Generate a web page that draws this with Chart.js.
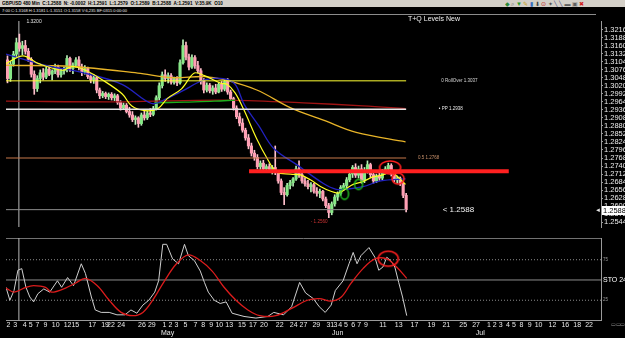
<!DOCTYPE html>
<html><head><meta charset="utf-8">
<script src="https://cdn.jsdelivr.net/npm/chart.js@4.4.1/dist/chart.umd.min.js"></script>
<style>
html,body{margin:0;padding:0;background:#000;}
#wrap{position:relative;width:625px;height:338px;overflow:hidden;background:#000;font-family:"Liberation Sans",Arial,sans-serif;}
.hd1{position:absolute;left:0;top:0;width:625px;height:7px;background:#d4d0c8;}
.hd1 .t{position:absolute;left:2px;top:0;font-size:9.2px;font-weight:bold;line-height:14px;color:#000;white-space:nowrap;transform:scale(0.5);transform-origin:0 0;}
.hd1 .ic{position:absolute;left:505px;top:0;font-size:12px;line-height:14px;white-space:nowrap;transform:scale(0.5);transform-origin:0 0;letter-spacing:3px;}
.hd2{position:absolute;left:0;top:7px;width:596px;height:7px;border-bottom:1px solid #8c8c8c;}
.hd2 .t{position:absolute;left:2px;top:0;font-size:8.2px;line-height:14px;color:#e6e6e6;white-space:nowrap;transform:scale(0.5);transform-origin:0 0;}
#ttl{position:absolute;left:408px;top:15px;font-size:7px;line-height:8px;color:#f0f0f0;white-space:nowrap;}
canvas{position:absolute;left:0;display:block;}
#cMain{top:15px;}
#cSto{top:232px;}
#corner{position:absolute;left:611px;top:321px;font-size:10px;line-height:12px;color:#9a9a9a;transform:scale(0.5);transform-origin:0 0;white-space:nowrap;}
</style></head>
<body>
<div id="wrap">
  <div class="hd1"><span class="t">GBPUSD 480 Min &nbsp;C:1.2588 &nbsp;N: -0.0002 &nbsp;H:1.2591 &nbsp;L:1.2579 &nbsp;O:1.2589 &nbsp;B:1.2588 &nbsp;A:1.2591 &nbsp;V:35.9K &nbsp;O10</span>
    <span class="ic"><span style="color:#2a8a3a">◆</span><span style="color:#606060">⌕</span><span style="color:#2a9a2a">▼</span><span style="color:#c8a020">✎</span><span style="color:#3a70c0">▮</span><span style="color:#404040">⬇</span><span style="color:#c02020">⊙</span><span style="color:#505050">✦</span><span style="color:#404080">╲</span><span style="color:#404080">╲</span><span style="color:#606060">▬</span><span style="color:#606060">▣</span><span style="color:#d02020">✖</span></span></div>
  <div class="hd2"><span class="t">7:00 C:1.3168 H:1.3181 L:1.3151 O:1.3158 V:6,235 BF:0315 0:00:00</span></div>
  <canvas id="cMain" width="625" height="218"></canvas>
  <canvas id="cSto" width="625" height="106"></canvas>
  <div id="ttl">T+Q Levels New</div>
  <div id="corner">▭▭▭</div>
</div>
<script>
// ---------- DATA ----------
const candleOpen = [
1.3110,1.3045,1.3095,1.3130,1.3170,1.3150,1.3160,1.3140,1.3112,1.3060,
1.3010,1.3045,1.3065,1.3050,1.3078,1.3060,1.3070,1.3085,1.3058,1.3072,
1.3075,1.3115,1.3080,1.3092,1.3110,1.3085,1.3068,1.3080,1.3052,1.3040,
1.3048,1.3005,1.2985,1.2993,1.2982,1.2990,1.2978,1.2985,1.2962,1.2942,
1.2952,1.2930,1.2918,1.2902,1.2908,1.2888,1.2918,1.2908,1.2925,1.2920,
1.2940,1.2978,1.3020,1.3058,1.3045,1.3055,1.3032,1.3045,1.3030,1.3100,
1.3160,1.3120,1.3085,1.3118,1.3090,1.3072,1.3035,1.3005,1.3022,1.3002,
1.3012,1.2998,1.3025,1.3008,1.3035,1.2998,1.2975,1.2942,1.2912,1.2890,
1.2865,1.2838,1.2810,1.2785,1.2770,1.2738,1.2750,1.2730,1.2738,1.2728,
1.2735,1.2718,1.2688,1.2648,1.2640,1.2672,1.2682,1.2695,1.2730,1.2710,
1.2688,1.2678,1.2668,1.2675,1.2652,1.2645,1.2652,1.2625,1.2602,1.2578,
1.2608,1.2632,1.2645,1.2665,1.2672,1.2692,1.2712,1.2735,1.2708,1.2730,
1.2690,1.2725,1.2745,1.2710,1.2688,1.2705,1.2698,1.2722,1.2730,1.2742,
1.2712,1.2692,1.2698,1.2680,1.2638];
const candleHigh = [
1.3124,1.3105,1.3140,1.3186,1.3200,1.3175,1.3178,1.3150,1.3118,1.3072,
1.3055,1.3075,1.3080,1.3085,1.3090,1.3075,1.3095,1.3092,1.3080,1.3085,
1.3125,1.3120,1.3100,1.3118,1.3122,1.3095,1.3090,1.3085,1.3062,1.3058,
1.3052,1.3012,1.3000,1.2998,1.2995,1.2996,1.2992,1.2990,1.2968,1.2960,
1.2958,1.2945,1.2930,1.2915,1.2912,1.2925,1.2935,1.2932,1.2940,1.2948,
1.2985,1.3030,1.3068,1.3075,1.3065,1.3062,1.3050,1.3052,1.3110,1.3180,
1.3172,1.3130,1.3128,1.3125,1.3105,1.3080,1.3045,1.3030,1.3028,1.3020,
1.3025,1.3030,1.3035,1.3040,1.3045,1.3005,1.2980,1.2950,1.2925,1.2905,
1.2872,1.2850,1.2820,1.2795,1.2780,1.2758,1.2760,1.2745,1.2748,1.2742,
1.2810,1.2725,1.2695,1.2665,1.2680,1.2690,1.2700,1.2740,1.2758,1.2715,
1.2700,1.2690,1.2682,1.2680,1.2665,1.2660,1.2655,1.2632,1.2610,1.2615,
1.2640,1.2650,1.2672,1.2680,1.2700,1.2720,1.2742,1.2748,1.2740,1.2745,
1.2735,1.2758,1.2750,1.2718,1.2712,1.2715,1.2728,1.2738,1.2750,1.2748,
1.2718,1.2705,1.2702,1.2685,1.2645];
const candleLow = [
1.3030,1.3035,1.3088,1.3120,1.3140,1.3128,1.3130,1.3105,1.3050,1.2990,
1.3000,1.3030,1.3040,1.3045,1.3055,1.3040,1.3062,1.3050,1.3050,1.3060,
1.3068,1.3070,1.3062,1.3085,1.3075,1.3055,1.3060,1.3045,1.3030,1.3028,
1.2995,1.2975,1.2978,1.2975,1.2972,1.2970,1.2968,1.2955,1.2935,1.2938,
1.2925,1.2910,1.2895,1.2885,1.2875,1.2882,1.2900,1.2902,1.2912,1.2915,
1.2935,1.2970,1.3012,1.3035,1.3030,1.3025,1.3025,1.3020,1.3025,1.3095,
1.3110,1.3075,1.3080,1.3080,1.3065,1.3025,1.2995,1.2998,1.2995,1.2990,
1.2992,1.2995,1.3000,1.3002,1.2990,1.2968,1.2935,1.2905,1.2880,1.2858,
1.2830,1.2800,1.2775,1.2760,1.2730,1.2728,1.2722,1.2718,1.2720,1.2712,
1.2710,1.2680,1.2640,1.2605,1.2635,1.2660,1.2670,1.2690,1.2700,1.2680,
1.2670,1.2660,1.2650,1.2645,1.2635,1.2630,1.2618,1.2595,1.2560,1.2570,
1.2600,1.2620,1.2638,1.2655,1.2662,1.2685,1.2700,1.2700,1.2698,1.2680,
1.2682,1.2715,1.2700,1.2680,1.2682,1.2690,1.2692,1.2712,1.2718,1.2705,
1.2685,1.2680,1.2672,1.2630,1.2580];
const candleClose = [
1.3045,1.3095,1.3130,1.3170,1.3150,1.3160,1.3140,1.3112,1.3060,1.3010,
1.3045,1.3065,1.3050,1.3078,1.3060,1.3070,1.3085,1.3058,1.3072,1.3075,
1.3115,1.3080,1.3092,1.3110,1.3085,1.3068,1.3080,1.3052,1.3040,1.3048,
1.3005,1.2985,1.2993,1.2982,1.2990,1.2978,1.2985,1.2962,1.2942,1.2952,
1.2930,1.2918,1.2902,1.2908,1.2888,1.2918,1.2908,1.2925,1.2920,1.2940,
1.2978,1.3020,1.3058,1.3045,1.3055,1.3032,1.3045,1.3030,1.3100,1.3160,
1.3120,1.3085,1.3118,1.3090,1.3072,1.3035,1.3005,1.3022,1.3002,1.3012,
1.2998,1.3025,1.3008,1.3035,1.2998,1.2975,1.2942,1.2912,1.2890,1.2865,
1.2838,1.2810,1.2785,1.2770,1.2738,1.2750,1.2730,1.2738,1.2728,1.2735,
1.2718,1.2688,1.2648,1.2640,1.2672,1.2682,1.2695,1.2730,1.2710,1.2688,
1.2678,1.2668,1.2675,1.2652,1.2645,1.2652,1.2625,1.2602,1.2578,1.2608,
1.2632,1.2645,1.2665,1.2672,1.2692,1.2712,1.2735,1.2708,1.2730,1.2690,
1.2725,1.2745,1.2710,1.2688,1.2705,1.2698,1.2722,1.2730,1.2742,1.2712,
1.2692,1.2698,1.2680,1.2638,1.2588];

const priceTicks = [1.2544,1.2572,1.2600,1.2628,1.2656,1.2684,1.2712,1.2740,1.2768,1.2796,1.2824,1.2852,1.2880,
  1.2908,1.2936,1.2964,1.2992,1.3020,1.3048,1.3076,1.3104,1.3132,1.3160,1.3188,1.3216];

const dayTickPos = [0.8,3.1,6.3,8.3,10.6,13.3,16.7,20.7,23.3,29,33.3,35.3,38.7,45.7,49,53.3,55.3,57.3,60.3,63.7,66.3,69,71.7,75,79.3,83,86.7,92,96.7,100,104.3,
  109,110.7,112.3,114.3,116.7,118.7,121,126.7,132,137.3,143,148,153.7,158,162.3,164.3,166.3,168.7,170.7,173.3,176,179,183.7,188,192,196];
const dayTickLabels = ['2','3','4','5','7','9','10','12','15','17','19','22','24','26','29','1','2','3','5','7','8','9','10','13','15','17','20','22','24','27','29',
  '31','3','4','5','6','7','9','11','13','17','19','21','25','27','1','2','3','4','5','8','9','10','12','16','18','22'];
const monthTickPos = [54.3,111.5,159.4];
const monthTickLabels = ['May','Jun','Jul'];

// moving averages: [bar index, price]
const maFast = [[0,1.3097],[5.7,1.3124],[11,1.3097],[19,1.3074],[22.3,1.3087],[26.7,1.3074],[32.3,1.3041],[39,1.2992],[42.3,1.2949],
  [46.7,1.2933],[51,1.2940],[54.3,1.2976],[59,1.3009],[63.3,1.3064],[66.7,1.3055],[72.3,1.3028],[74.3,1.3025],[77,1.2995],[80,1.2935],
  [84.3,1.2834],[87.7,1.2768],[91,1.2719],[95.7,1.2712],[99,1.2709],[102.3,1.2692],[105.7,1.2669],[109,1.2653],[111.7,1.2646],
  [114,1.2659],[116.7,1.2676],[120,1.2686],[123.3,1.2702],[126.7,1.2709],[129,1.2719],[131,1.2709],[133.3,1.2686],[134.3,1.2676]];
const maBlue = [[0,1.3130],[13.3,1.3091],[26,1.3065],[39,1.3025],[49,1.2958],[54,1.2975],[59,1.3000],[66.7,1.3040],[73,1.3045],
  [77,1.3025],[80,1.2956],[85,1.2880],[90,1.2801],[97.7,1.2745],[106.7,1.2679],[111,1.2659],[115,1.2660],[120,1.2668],[126,1.2688],[134.3,1.2695]];
const maSlow = [[0,1.3091],[22.3,1.3087],[44.3,1.3064],[55.7,1.3048],[66.7,1.3052],[73.3,1.3041],[84.3,1.3005],[95.7,1.2943],
  [106.7,1.2900],[117.7,1.2857],[134.3,1.2824]];
const maRed = [[0,1.2966],[40,1.2964],[73,1.2970],[100,1.2960],[120,1.2950],[134.3,1.2940]];
const maGreen = [[50,1.2960],[60,1.2963],[70,1.2966],[77,1.2970]];

const levelValues = [1.3037,1.2938,1.2768,1.2588];
const levelNames = ['0 RollOver','\u2022 PP','0.5','<'];
const redZone = 1.2722;

// stochastic: [bar index, value]
const stoK = [[0,41],[1.3,25],[2.7,37],[4,62],[5.3,64],[6.7,41],[8,29],[9.3,23],[10.7,33],[12.7,39],[14.7,35],[17.3,49],[18.7,41],
  [20.7,53],[22.7,43],[25.3,70],[26.7,58],[28.7,29],[30,13],[32,10],[34.7,10],[37.3,7],[40,7],[42,13],[44,9],[46,19],[48,25],[50,35],
  [51.3,49],[52.7,94],[54,94],[56,76],[58,70],[60,94],[61.3,80],[63.3,74],[65.3,61],[66.7,47],[68,35],[70,25],[72,21],[74,23],[76,9],
  [80,5],[84,3],[88,5],[90,10],[93.3,7],[96,17],[98.7,47],[100.7,34],[103.3,27],[105.3,17],[107.3,10],[109.3,19],[110.7,37],[113.3,49],
  [115.3,70],[116.7,84],[118,70],[119.3,80],[122,90],[124,78],[125.3,62],[126.7,66],[128,78],[129.3,74],[130.7,66],[132,47],[133.3,29],[134.7,6]];
const stoD = [[0,40],[2.7,35],[6.7,41],[9.3,43],[13.3,41],[15.3,35],[20,40],[23.3,46],[26.7,52],[30.7,43],[34.7,25],[38.7,10],[42.7,6],
  [46,10],[49.3,25],[53.3,49],[57.3,70],[61.3,81],[65.3,74],[69.3,61],[73.3,41],[77.3,25],[81.3,13],[85.3,6],[90.7,6],[96,15],[101.3,25],
  [105.3,27],[109.3,24],[112.7,29],[116,46],[120,64],[124,76],[128,76],[131.3,66],[134.7,52]];
const stoLevels = [25,50,75];
const stoTickLabels = ['25','STO 24,3,3','75'];

// ---------- STYLE / LAYOUT ----------
const FONT = 'Liberation Sans';
const X_MAX = 200;
const P_MIN = 1.25275, P_MAX = 1.32456;
const S_MAX = 101.8;
const SEP_X = 4.33;
const UP = '#86e886', DN = '#ff9fb4', UP_W = '#b8f0b8', DN_W = '#ffc0cc';
const lastIdx = candleClose.length - 1;
const levelEnd = candleClose.length - 0.5;

const pts = a => a.map(p => ({x: p[0], y: p[1]}));
const isUp = i => candleClose[i] >= candleOpen[i];
const lineDs = (data, color, width, order, extra) => Object.assign({
  type: 'line', data, borderColor: color, borderWidth: width, pointRadius: 0, fill: false, tension: 0, order
}, extra || {});
function ellipse(w, h, color, lw) {
  const c = document.createElement('canvas');
  c.width = w + 4; c.height = h + 4;
  const g = c.getContext('2d');
  g.strokeStyle = color; g.lineWidth = lw;
  g.beginPath(); g.ellipse(c.width / 2, c.height / 2, w / 2, h / 2, 0, 0, Math.PI * 2); g.stroke();
  return c;
}
const circleDs = (x, y, img) => ({type: 'line', data: [{x, y}], showLine: false, pointRadius: 5,
  pointStyle: img, order: 1});

const levelColors = ['#ffff33', '#e6e6e6', '#c8784a', '#8c8c8c'];
const levelWidths = [1, 1.6, 1, 1];
const levelLabelAt = [146.3, 145.5, 138.5, 146.8];
const levelLabelStyle = [
  {size: 4.5, color: '#d8d8d8'}, {size: 4.5, color: '#e8e8e8'}, {size: 4.5, color: '#c8906a'}, {size: 8, color: '#f4f4f4'}];

const mainText = {
  id: 'mainText',
  afterDatasetsDraw(chart) {
    const {ctx, scales: {x, y}} = chart;
    ctx.save();
    ctx.textBaseline = 'middle'; ctx.textAlign = 'left';
    levelValues.forEach((v, i) => {
      const st = levelLabelStyle[i];
      ctx.font = st.size + 'px ' + FONT;
      ctx.fillStyle = st.color;
      ctx.fillText(levelNames[i] + ' ' + v.toFixed(4), x.getPixelForValue(levelLabelAt[i]), y.getPixelForValue(v));
    });
    // high / low markers
    const hi = Math.max(...candleHigh), hiI = candleHigh.indexOf(hi);
    ctx.font = '5px ' + FONT; ctx.fillStyle = '#e0e0e0';
    ctx.fillText(hi.toFixed(4), x.getPixelForValue(hiI + 0.5) + 7, y.getPixelForValue(hi) - 12);
    const lo = Math.min(...candleLow), loI = candleLow.indexOf(lo);
    ctx.font = '4.6px ' + FONT; ctx.fillStyle = '#c83232';
    ctx.fillText('- ' + lo.toFixed(4), x.getPixelForValue(loI + 0.5) - 18, y.getPixelForValue(lo) + 4);
    ctx.restore();
  },
  afterDraw(chart) {
    const {ctx, chartArea, scales: {y}} = chart;
    const v = candleClose[lastIdx];
    const py = Math.round(y.getPixelForValue(v));
    ctx.save();
    ctx.fillStyle = '#ffffff';
    ctx.fillRect(chartArea.right + 1, py - 4, 24, 9);
    ctx.fillStyle = '#000'; ctx.font = '7.5px ' + FONT; ctx.textBaseline = 'middle'; ctx.textAlign = 'left';
    ctx.fillText(v.toFixed(4), chartArea.right + 2, py + 0.5);
    ctx.fillStyle = '#e8e8e8'; ctx.font = '6px ' + FONT;
    ctx.fillText('\u25C4', chartArea.right - 6, py + 0.5);
    ctx.restore();
  }
};

// ---------- MAIN CHART ----------
const mainDatasets = [
  {type: 'bar', data: candleHigh.map((h, i) => ({x: i + 0.5, y: [candleLow[i], h]})),
   backgroundColor: c => isUp(c.dataIndex) ? UP_W : DN_W, barThickness: 1, maxBarThickness: 1, grouped: false, borderWidth: 0, order: 20},
  {type: 'bar', data: candleOpen.map((o, i) => ({x: i + 0.5, y: [o, candleClose[i]]})),
   backgroundColor: c => isUp(c.dataIndex) ? UP : DN, barThickness: 2.5, maxBarThickness: 2.5, grouped: false, minBarLength: 1, borderWidth: 0, order: 19},
  lineDs([{x: SEP_X, y: P_MIN}, {x: SEP_X, y: P_MAX}], '#b8b8b8', 1, 25),
  lineDs(pts(maRed), '#a01414', 1.3, 12, {tension: 0.35}),
  lineDs(pts(maGreen), '#1cb01c', 1.3, 11, {tension: 0.35}),
  lineDs(pts(maSlow), '#e8b428', 1.3, 10, {tension: 0.35}),
  lineDs(pts(maBlue), '#2222c0', 1.3, 9, {tension: 0.35}),
  lineDs(pts(maFast), '#ffff22', 1.2, 8, {tension: 0.35}),
];
levelValues.forEach((v, i) => mainDatasets.push(lineDs([{x: 0, y: v}, {x: levelEnd, y: v}], levelColors[i], levelWidths[i], 6)));
mainDatasets.push(lineDs([{x: 81.7, y: redZone}, {x: 169, y: redZone}], '#ff2020', 4, 4));
mainDatasets.push(circleDs(129.1, 1.2735, ellipse(21, 13, '#ff2020', 1.6)));
mainDatasets.push(circleDs(131.8, 1.2696, ellipse(12, 11, '#ff2020', 1.6)));
mainDatasets.push(circleDs(113.8, 1.2643, ellipse(8, 11, '#22cc22', 1.4)));
mainDatasets.push(circleDs(118.5, 1.2676, ellipse(8, 10, '#22cc22', 1.4)));

new Chart(document.getElementById('cMain'), {
  type: 'bar',
  data: {datasets: mainDatasets},
  options: {
    responsive: false, animation: false, devicePixelRatio: 1,
    layout: {padding: 0},
    plugins: {legend: {display: false}, tooltip: {enabled: false}},
    scales: {
      x: {type: 'linear', min: 0, max: X_MAX, display: false, offset: false, grid: {display: false}},
      y: {type: 'linear', position: 'right', min: P_MIN, max: P_MAX,
          afterFit(s) { s.width = 24; },
          afterBuildTicks(s) { s.ticks = priceTicks.map(v => ({value: v})); },
          ticks: {autoSkip: false, color: '#ececec', padding: 1, font: {family: FONT, size: 7.5},
                  callback: (v, i) => priceTicks[i].toFixed(4)},
          grid: {display: true, drawOnChartArea: false, drawTicks: true, tickLength: 2, color: '#9a9a9a'},
          border: {display: true, color: '#9a9a9a'}}
    }
  },
  plugins: [mainText]
});

// ---------- STOCHASTIC PANEL ----------
const stoDatasets = [
  lineDs([{x: 0, y: S_MAX - 0.4}, {x: X_MAX, y: S_MAX - 0.4}], '#8c8c8c', 1, 30),
  lineDs([{x: SEP_X, y: 0}, {x: SEP_X, y: S_MAX}], '#b8b8b8', 1, 29),
];
stoLevels.forEach(v => stoDatasets.push(lineDs([{x: 0, y: v}, {x: X_MAX, y: v}], '#8c8c8c', 1, 28,
  v === 50 ? {} : {borderDash: [1, 2]})));
stoDatasets.push(lineDs(pts(stoK), '#cfcfcf', 1, 6));
stoDatasets.push(lineDs(pts(stoD), '#dc1c1c', 1.3, 5, {tension: 0.35}));
stoDatasets.push(circleDs(128.5, 76.2, ellipse(20, 15, '#ff2020', 1.6)));

new Chart(document.getElementById('cSto'), {
  type: 'line',
  data: {datasets: stoDatasets},
  options: {
    responsive: false, animation: false, devicePixelRatio: 1,
    layout: {padding: {top: 5, left: 0, right: 0, bottom: 0}},
    plugins: {legend: {display: false}, tooltip: {enabled: false}},
    scales: {
      x: {type: 'linear', position: 'bottom', weight: 0, min: 0, max: X_MAX, offset: false,
          afterFit(s) { s.height = 8; },
          afterBuildTicks(s) { s.ticks = dayTickPos.map(v => ({value: v})); },
          ticks: {autoSkip: false, maxRotation: 0, minRotation: 0, padding: 0, color: '#e8e8e8',
                  font: {family: FONT, size: 7}, callback: (v, i) => dayTickLabels[i]},
          grid: {display: false, drawTicks: false},
          border: {display: true, color: '#9a9a9a'}},
      x2: {type: 'linear', position: 'bottom', weight: 1, min: 0, max: X_MAX, offset: false,
          afterFit(s) { s.height = 9.5; },
          afterBuildTicks(s) { s.ticks = monthTickPos.map(v => ({value: v})); },
          ticks: {autoSkip: false, maxRotation: 0, minRotation: 0, padding: 0, color: '#e8e8e8',
                  font: {family: FONT, size: 7}, callback: (v, i) => monthTickLabels[i]},
          grid: {display: false, drawTicks: false},
          border: {display: false}},
      y: {type: 'linear', position: 'right', min: 0, max: S_MAX,
          afterFit(s) { s.width = 24; },
          afterBuildTicks(s) { s.ticks = stoLevels.map(v => ({value: v})); },
          ticks: {autoSkip: false, padding: 2,
                  color: c => c.index === 1 ? '#ffffff' : '#9a9a9a',
                  font: c => ({family: FONT, size: c.index === 1 ? 7 : 4.5}),
                  callback: (v, i) => stoTickLabels[i]},
          grid: {display: true, drawOnChartArea: false, drawTicks: false, color: '#9a9a9a'},
          border: {display: true, color: '#9a9a9a'}}
    }
  }
});
</script>
</body></html>
